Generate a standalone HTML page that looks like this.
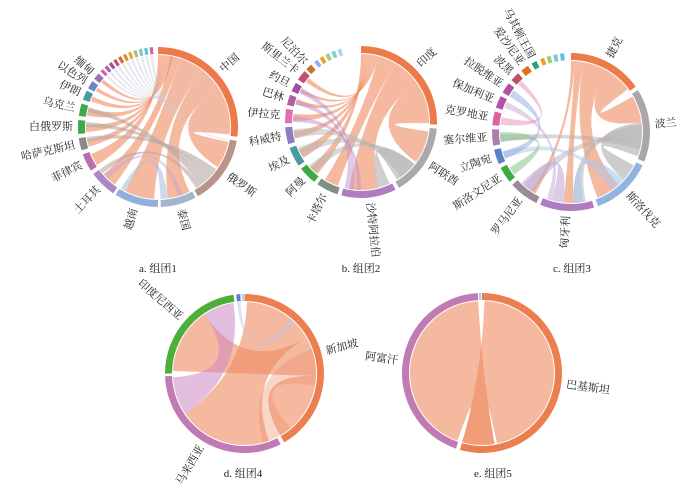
<!DOCTYPE html>
<html><head><meta charset="utf-8">
<style>
html,body{margin:0;padding:0;background:#fff;}
svg{display:block;}
text{font-family:"Liberation Serif","Noto Serif CJK SC",serif;fill:#222;}
</style></head>
<body>
<svg id="s" width="696" height="490" viewBox="0 0 696 490" xmlns="http://www.w3.org/2000/svg"></svg>
<script>
const S=document.getElementById('s');let out='';
function P(cx,cy,r,a){const t=(a-90)*Math.PI/180;return [cx+r*Math.cos(t),cy+r*Math.sin(t)];}
function f(p){return p[0].toFixed(2)+','+p[1].toFixed(2);}
function arc(cx,cy,r1,r2,a0,a1,c){const L=(a1-a0)>180?1:0;
 out+=`<path d="M${f(P(cx,cy,r2,a0))}A${r2},${r2} 0 ${L} 1 ${f(P(cx,cy,r2,a1))}L${f(P(cx,cy,r1,a1))}A${r1},${r1} 0 ${L} 0 ${f(P(cx,cy,r1,a0))}Z" fill="${c}"/>`;}
function chord(cx,cy,r,a0,a1,b0,b1,c,o){const La=(a1-a0)>180?1:0,Lb=(b1-b0)>180?1:0;
 out+=`<path d="M${f(P(cx,cy,r,a0))}A${r},${r} 0 ${La} 1 ${f(P(cx,cy,r,a1))}Q${cx},${cy} ${f(P(cx,cy,r,b0))}A${r},${r} 0 ${Lb} 1 ${f(P(cx,cy,r,b1))}Q${cx},${cy} ${f(P(cx,cy,r,a0))}Z" fill="${c}" fill-opacity="${o}"/>`;}
function label(cx,cy,r,a,t){const flip=a>180;
 out+=`<text font-size="11" transform="translate(${cx},${cy}) rotate(${a-90}) translate(${r+5},0)${flip?' rotate(180)':''}" text-anchor="${flip?'end':'start'}" dominant-baseline="central">${t}</text>`;}
function panel(cx,cy,R,groups,chords){const ri=R-7;
 const SAL='#ef8a60';
 chords.forEach(c=>chord(cx,cy,ri-1,c[0],c[1],c[2],c[3],c[4]||SAL,c[5]||0.6));
 groups.forEach(g=>{arc(cx,cy,ri,R,g[0],g[1],g[2]);if(g[3])label(cx,cy,R,(g[0]+g[1])/2,g[3]);});}
function smalls(a0,n,step,cols){const r=[];for(let i=0;i<n;i++)r.push([a0+i*step,a0+i*step+step*0.6,cols[i%cols.length]]);return r;}

// Panel a
let gA=[[0,97,'#ec7a4a','中国'],[100,150,'#b9948d','俄罗斯'],[152,178,'#9fb6cc','泰国'],[180,212,'#93afe0','越南'],
[214,234,'#a98ac6','土耳其'],[237,250,'#b56fb0','菲律宾'],[253,262,'#8a8a8a','哈萨克斯坦'],[265,275,'#3daa4d','白俄罗斯'],
[278,287,'#3daa4d','乌克兰'],[290,297,'#4a9e9a','伊朗'],[299,305,'#6b86c9','以色列'],[307,312,'#a070b0','缅甸']];
gA=gA.concat(smalls(314,11,4,['#d060a8','#b060b0','#a050a0','#c05070','#d07030','#e09020','#d8b030','#a8c070','#80c8c8','#60c8d8']));
let cA=[[58,96,102,124],[38,58,154,172],[18,38,183,207],[10,18,217,229],
[0,3,238,248],[3,5,254,260],[5,7,266,272],[7,9,279,285],[9,10,291,295],[10,11,300,303],[11,12,308,311],
[126,132,258,262,'#b8a8a4',0.6],[132,138,270,274,'#b8a8a4',0.6],[138,144,282,286,'#b8a8a4',0.6],[144,148,230,234,'#b8a8a4',0.6],
[172,178,207,211,'#a8c0dc',0.6],[224,228,160,164,'#c0a8d8',0.5]];
for(let i=0;i<11;i++)cA.push([314+i*4,316+i*4,20+i*8,21+i*8,'#c8ccd8',0.45]);
panel(158,127,80,gA,cA);

// Panel b
let gB=[[0,92,'#ec7a4a','印度'],[95,150,'#a9a9a9','阿联酋'],[153,195,'#b07cc0','沙特阿拉伯'],[198,215,'#7f8f80','卡塔尔'],
[218,232,'#3dab45','阿曼'],[235,250,'#4a9aa0','埃及'],[253,266,'#8a80c0','科威特'],[269,280,'#e070b0','伊拉克'],
[283,291,'#b060a0','巴林'],[294,301,'#a050a0','约旦'],[304,312,'#c05070','斯里兰卡'],[314,319,'#d07030','尼泊尔']];
gB=gB.concat(smalls(322,5,5,['#90b0e0','#f0a020','#a0d080','#80d0d0','#b0d8e8']));
let cB=[[55,91,98,126],[30,55,165,190],[15,30,200,212],[0,3,220,228],[3,6,238,246],[6,9,256,262],[9,11,271,277],[11,13,285,289],[13,14,296,299],[14,15,306,310],
[128,148,155,165,'#b4b4b4',0.65],[128,132,222,230,'#b4b4b4',0.5],[132,138,240,248,'#b4b4b4',0.5],[138,144,256,264,'#b4b4b4',0.5],
[190,194,285,290,'#c090d0',0.5],[186,190,295,300,'#c090d0',0.5],[180,184,270,275,'#c090d0',0.5]];
panel(361,122,76,gB,cB);

// Panel c
let gC=[[0,55,'#ec7a4a','捷克'],[58,112,'#aaa6aa','波兰'],[115,160,'#8fb4e0','斯洛伐克'],[163,203,'#b07cc0','匈牙利'],
[206,228,'#9a8a9a','罗马尼亚'],[231,243,'#3daa45','斯洛文尼亚'],[246,257,'#5a80c8','立陶宛'],[260,272,'#b07cb0','塞尔维亚'],
[275,285,'#e060a0','克罗地亚'],[288,297,'#b050a8','保加利亚'],[300,308,'#b050a0','拉脱维亚'],[311,318,'#c05060','波黑'],
[321,327,'#e07020','爱沙尼亚'],[330,334,'#30a070','马其顿王国']];
gC=gC.concat(smalls(337,4,5,['#f0a020','#a0d060','#80c8d0','#60c0e0']));
let cC=[[30,53,60,82],[10,30,138,158],[3,10,178,186],[0,3,210,214],
[82,110,118,132,'#b4b0b4',0.65],[84,92,168,178,'#b4b0b4',0.5],[92,98,212,222,'#b4b0b4',0.5],[98,104,262,268,'#b4b0b4',0.5],
[132,140,170,178,'#a8c8ec',0.6],[140,145,248,254,'#a8c8ec',0.5],[186,196,214,224,'#c8a8d8',0.6],[196,200,290,295,'#c8a8d8',0.5],
[233,240,262,270,'#80c080',0.5],[248,254,300,306,'#90a8e0',0.5],[276,282,312,316,'#e090c0',0.5]];
panel(571,132,79,gC,cC);

// Panel d
let gD=[[0,150,'#ec7f50','新加坡'],[153,268,'#c07ab4','马来西亚'],[270,352,'#4daf3a','印度尼西亚'],[354,357,'#5b7fd0'],[358,359.5,'#a8d0f0']];
let cD=[[2,60,160,236],[60,92,272,326],[92,121,121,150],[70,100,140,165,'#ef8a60',0.35],[236,267,326,351,'#cc88c4',0.55],[354,357,40,45,'#c0c8e8',0.5]];
panel(244.5,373.5,79.5,gD,cD);

// Panel e
let gE=[[0,196,'#ec7f50','巴基斯坦'],[199,357,'#c07ab4','阿富汗'],[357.8,359.5,'#a8d0f0']];
let cE=[[170,196,200,357],[2,168,170,196]];
panel(482,373,80,gE,cE);

// captions
[['a. 组团1',158,272],['b. 组团2',361,272],['c. 组团3',572,272],['d. 组团4',243,477],['e. 组团5',493,477]].forEach(c=>{
 out+=`<text x="${c[1]}" y="${c[2]}" font-size="11" text-anchor="middle">${c[0]}</text>`;});
S.innerHTML=out;
</script>
</body></html>
